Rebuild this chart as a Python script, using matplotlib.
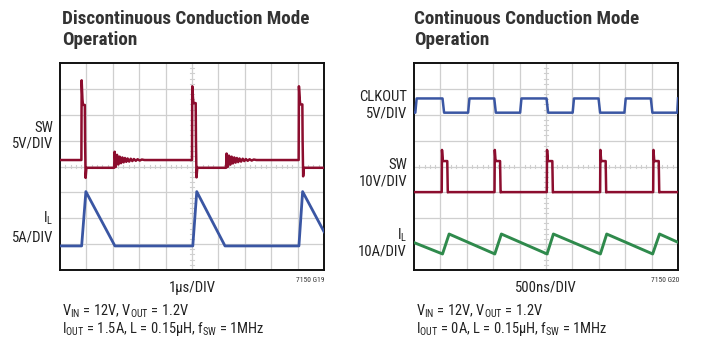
import matplotlib
matplotlib.use("Agg")
import matplotlib.pyplot as plt
from matplotlib import font_manager as fm
import numpy as np

# ---------------- data (time and level in scope divisions) ----------------
# Left: discontinuous conduction mode
dcm_sw_t = [0, 0.81, 0.82, 0.85, 0.87, 0.94, 0.95, 0.97, 1.00, 2.05,
            2.07, 2.11, 2.16, 2.21, 2.26, 2.31, 2.36, 2.41, 2.46, 2.51, 2.56, 2.62, 2.68, 2.74, 2.80, 2.87,
            2.94, 3.02, 3.10, 3.20,
            5.00, 5.01, 5.04, 5.06, 5.14, 5.15, 5.17, 5.20, 6.29,
            6.31, 6.35, 6.40, 6.45, 6.50, 6.55, 6.60, 6.65, 6.70, 6.75, 6.80, 6.86, 6.92, 6.98, 7.04, 7.11,
            7.18, 7.26, 7.34, 7.44,
            9.04, 9.05, 9.08, 9.10, 9.18, 9.19, 9.21, 9.24, 10.0]
dcm_sw_v = [4.25, 4.25, 7.33, 6.6, 6.38, 6.38, 5.0, 3.56, 3.95, 3.95,
            4.57, 3.98, 4.45, 4.08, 4.38, 4.13, 4.35, 4.16, 4.33, 4.18, 4.31, 4.19, 4.30, 4.21, 4.29, 4.22,
            4.28, 4.23, 4.27, 4.25,
            4.25, 7.10, 6.6, 6.45, 6.45, 5.0, 3.58, 3.95, 3.95,
            4.50, 3.98, 4.42, 4.07, 4.38, 4.12, 4.35, 4.15, 4.33, 4.17, 4.31, 4.19, 4.30, 4.21, 4.29, 4.22,
            4.28, 4.23, 4.27, 4.25,
            4.25, 7.10, 6.6, 6.40, 6.40, 5.0, 3.62, 3.95, 3.95]
dcm_il_t = [0, 0.82, 0.98, 2.08, 5.03, 5.18, 6.25, 9.05, 9.19, 10.0]
dcm_il_v = [0.93, 0.93, 3.03, 0.93, 0.93, 3.03, 0.93, 0.93, 3.03, 1.48]

# Right: continuous conduction mode
ccm_clk_t = [0, 0.05, 0.10, 1.08, 1.14, 2.05, 2.10, 3.04, 3.10, 4.02, 4.07, 5.02, 5.08,
             6.01, 6.06, 6.99, 7.05, 7.97, 8.02, 8.97, 9.03, 9.97, 10.0]
ccm_clk_v = [6.08, 6.08, 6.63, 6.63, 6.08, 6.08, 6.63, 6.63, 6.08, 6.08, 6.63, 6.63, 6.08,
             6.08, 6.63, 6.63, 6.08, 6.08, 6.63, 6.63, 6.08, 6.08, 6.63]
ccm_sw_t = [0, 1.05, 1.06, 1.09, 1.11, 1.26, 1.28, 1.30,
            3.05, 3.06, 3.09, 3.11, 3.26, 3.28, 3.30,
            5.03, 5.04, 5.07, 5.09, 5.24, 5.26, 5.28,
            7.05, 7.06, 7.09, 7.11, 7.26, 7.28, 7.30,
            9.06, 9.07, 9.10, 9.12, 9.27, 9.29, 9.31, 10.0]
ccm_sw_v = [3.01, 3.01, 4.64, 4.21, 4.21, 4.21, 3.0, 3.01,
            3.01, 4.64, 4.21, 4.21, 4.21, 3.0, 3.01,
            3.01, 4.64, 4.21, 4.21, 4.21, 3.0, 3.01,
            3.01, 4.64, 4.21, 4.21, 4.21, 3.0, 3.01,
            3.01, 4.64, 4.21, 4.21, 4.21, 3.0, 3.01, 3.01]
ccm_il_t = [0, 1.08, 1.33, 3.06, 3.31, 5.04, 5.28, 7.06, 7.30, 9.04, 9.30, 10.0]
ccm_il_v = [1.06, 0.62, 1.39, 0.62, 1.39, 0.62, 1.39, 0.62, 1.39, 0.62, 1.39, 1.07]

titles_l1 = ["Discontinuous Conduction Mode", "Continuous Conduction Mode"]
titles_l2 = ["Operation", "Operation"]
xlabels = ["1\u00b5s/DIV", "500ns/DIV"]
fig_ids = ["7150 G19", "7150 G20"]
cond_l1 = [r"V$_{\mathregular{IN}}$ = 12V, V$_{\mathregular{OUT}}$ = 1.2V",
           r"V$_{\mathregular{IN}}$ = 12V, V$_{\mathregular{OUT}}$ = 1.2V"]
cond_l2 = ["I$_{\\mathregular{OUT}}$ = 1.5A, L = 0.15\u00b5H, f$_{\\mathregular{SW}}$ = 1MHz",
           "I$_{\\mathregular{OUT}}$ = 0A, L = 0.15\u00b5H, f$_{\\mathregular{SW}}$ = 1MHz"]

RED = "#8c0d2e"
BLUE = "#3a56a3"
GREEN = "#2f8a4c"
GRID = "#cfcfcf"
TXT = "#333333"

# ---------------- font choice: prefer a narrow/condensed sans ----------------
ttf = fm.fontManager.ttflist
names = {f.name for f in ttf}
reg_prop = None
bold_prop = None
for nm in ["Liberation Sans Narrow", "Roboto Condensed", "Open Sans Condensed",
           "DejaVu Sans Condensed", "Noto Sans Condensed", "Arial Narrow"]:
    if nm in names:
        reg_prop = fm.FontProperties(family=nm)
        bold_prop = fm.FontProperties(family=nm, weight="bold")
        break
if reg_prop is None:
    for nm in ["Noto Sans", "Roboto", "Open Sans", "DejaVu Sans"]:
        cond = [f for f in ttf if f.name == nm and f.stretch in
                ("condensed", "semi-condensed", "extra-condensed", 300, 400)]
        if cond:
            reg_prop = fm.FontProperties(family=nm, stretch="condensed")
            bold_prop = fm.FontProperties(family=nm, stretch="condensed", weight="bold")
            break
if reg_prop is None:
    reg_prop = fm.FontProperties(family="Liberation Sans")
    bold_prop = fm.FontProperties(family="Liberation Sans", weight="bold")

W, H = 701, 348
fig = plt.figure(figsize=(W / 100, H / 100), dpi=100)
fig.patch.set_facecolor("white")
renderer = fig.canvas.get_renderer()


def fx(x):
    return x / W


def fy(y):
    return 1 - y / H


def fitted_size(s, prop, target_px):
    t = fig.text(0, 0, s, fontproperties=prop, fontsize=10)
    w = t.get_window_extent(renderer).width
    t.remove()
    return 10.0 * target_px / w


f_reg = fitted_size(cond_l2[0], reg_prop, 203)
f_bold = fitted_size(titles_l1[0], bold_prop, 247)
f_lab = fitted_size("1\u00b5s/DIV", reg_prop, 47)
f_id = f_reg * 0.52


def scope_axes(x0):
    ax = fig.add_axes([fx(x0), fy(270), fx(264), 207 / H])
    ax.set_xlim(0, 10)
    ax.set_ylim(0, 8)
    ax.set_xticks([])
    ax.set_yticks([])
    for i in range(1, 10):
        ax.axvline(i, color=GRID, lw=0.9, zorder=1)
    for j in range(1, 8):
        ax.axhline(j, color=GRID, lw=0.9, zorder=1)
    for k in np.arange(0.2, 10, 0.2):
        ax.plot([k, k], [3.93, 4.07], color=GRID, lw=0.8, zorder=1)
    for k in np.arange(0.2, 8, 0.2):
        ax.plot([4.93, 5.07], [k, k], color=GRID, lw=0.8, zorder=1)
    for s in ax.spines.values():
        s.set_linewidth(1.4)
        s.set_color("#111111")
    return ax


axL = scope_axes(60)
axL.plot(dcm_sw_t, dcm_sw_v, color=RED, lw=1.8, zorder=3)
axL.plot(dcm_il_t, dcm_il_v, color=BLUE, lw=2.0, zorder=3)

axR = scope_axes(414)
axR.plot(ccm_clk_t, ccm_clk_v, color=BLUE, lw=1.8, zorder=3)
axR.plot(ccm_sw_t, ccm_sw_v, color=RED, lw=1.8, zorder=3)
axR.plot(ccm_il_t, ccm_il_v, color=GREEN, lw=2.1, zorder=3)

for x0, t1, t2 in zip([62, 414], titles_l1, titles_l2):
    fig.text(fx(x0), fy(24), t1, fontproperties=bold_prop, fontsize=f_bold,
             color=TXT, ha="left", va="baseline")
    fig.text(fx(x0), fy(45), t2, fontproperties=bold_prop, fontsize=f_bold,
             color=TXT, ha="left", va="baseline")

lab_kw = dict(fontproperties=reg_prop, fontsize=f_lab, color="#222222", ha="right", va="center")
fig.text(fx(53), fy(128), "SW", **lab_kw)
fig.text(fx(53), fy(144), "5V/DIV", **lab_kw)
fig.text(fx(53), fy(218), r"I$_{\mathregular{L}}$", **lab_kw)
fig.text(fx(53), fy(237), "5A/DIV", **lab_kw)

fig.text(fx(407), fy(97), "CLKOUT", **lab_kw)
fig.text(fx(407), fy(114), "5V/DIV", **lab_kw)
fig.text(fx(407), fy(165), "SW", **lab_kw)
fig.text(fx(407), fy(182), "10V/DIV", **lab_kw)
fig.text(fx(407), fy(235), r"I$_{\mathregular{L}}$", **lab_kw)
fig.text(fx(407), fy(252), "10A/DIV", **lab_kw)

for x0, xl, fid in zip([60, 414], xlabels, fig_ids):
    fig.text(fx(x0 + 132), fy(288), xl, fontproperties=reg_prop, fontsize=f_lab,
             color="#222222", ha="center", va="center")
    fig.text(fx(x0 + 265), fy(280), fid, fontproperties=reg_prop, fontsize=f_id,
             color="#333333", ha="right", va="center")

cond_kw = dict(fontproperties=reg_prop, fontsize=f_reg, color="#222222", ha="left", va="center")
for x0, c1, c2 in zip([62, 416], cond_l1, cond_l2):
    fig.text(fx(x0), fy(311.5), c1, **cond_kw)
    fig.text(fx(x0), fy(328.5), c2, **cond_kw)

fig.savefig("out.png", dpi=100, facecolor="white")
